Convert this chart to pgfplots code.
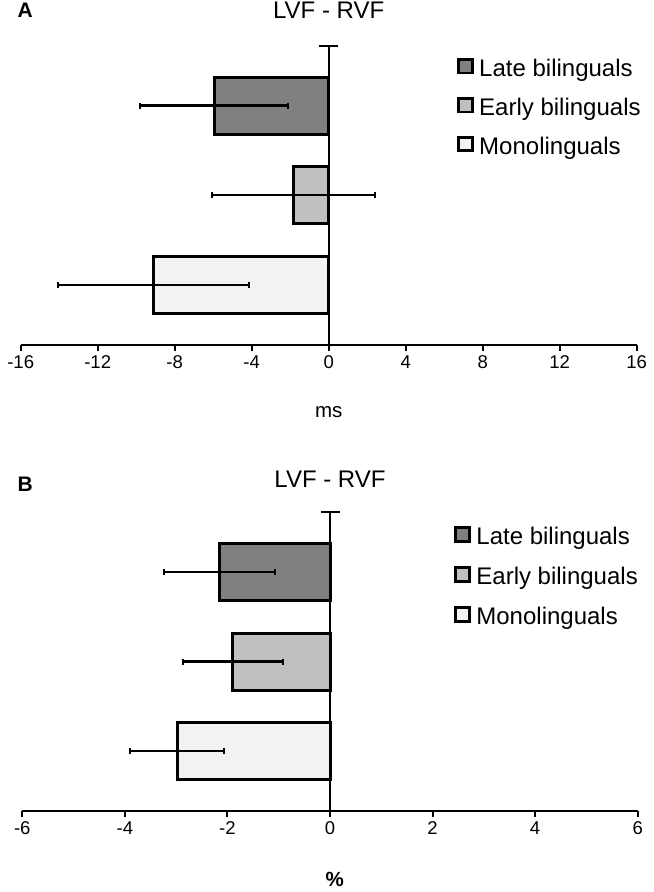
\documentclass[border=0pt]{standalone}
\usepackage{fontspec}
\setmainfont{Liberation Sans}
\usepackage{pgfplots}
\pgfplotsset{compat=1.18}
\definecolor{late}{HTML}{808080}
\definecolor{early}{HTML}{C0C0C0}
\definecolor{mono}{HTML}{F2F2F2}
\pgfplotsset{
  panel/.style={
    scale only axis,
    axis x line=bottom, axis y line=center,
    axis line style={-, line width=2bp, black},
    ymin=-0.6667, ymax=2.6667,
    ytick=\empty,
    tick align=outside, major tick length=6bp,
    xtick style={line width=2bp, black},
    xticklabel style={font=\fontsize{18.5bp}{22bp}\selectfont, inner sep=0pt, yshift=-4.5bp},
    legend cell align=left,
    legend style={draw=none, fill=none, inner sep=0pt, outer sep=0pt, anchor=north west,
      font=\fontsize{24bp}{28bp}\selectfont,
      nodes={inner sep=0pt, text height=18bp, text depth=5bp}},
    clip=false,
  },
  mybar/.style={xbar, bar width=57bp, bar shift=0pt, draw=black, line width=3bp, fill=#1,
    legend image code/.code={\draw[##1, line width=2.8bp] (0bp,-3.2bp) rectangle (14bp,10.5bp); \path (19.5bp,0bp);},
    error bars/.cd, x dir=both, x explicit,
    error bar style={line width=2.2bp, black},
    error mark=|,
    error mark options={line width=2bp, mark size=3bp, black}},
}
\begin{document}
\begin{tikzpicture}
\useasboundingbox (0,0) rectangle (654bp,-892bp);
% Panel A
\node[anchor=base west, inner sep=0pt, font=\bfseries\fontsize{21bp}{25bp}\selectfont] at (17.5bp,-17bp) {A};
\begin{axis}[panel,
  at={(20.7bp,-344.7bp)}, anchor=south west,
  width=616bp, height=299bp,
  xmin=-16, xmax=16,
  xtick={-16,-12,-8,-4,0,4,8,12,16},
  xticklabels={-16,-12,-8,-4,0,4,8,12,16},
  title={LVF - RVF},
  title style={at={(axis description cs:0.5,1)}, anchor=base, yshift=21bp, inner sep=0pt, font=\fontsize{24bp}{28bp}\selectfont},
  xlabel={ms},
  xlabel style={at={(axis description cs:0.5,0)}, anchor=base, yshift=-73bp, inner sep=0pt, font=\fontsize{20.5bp}{24bp}\selectfont},
  legend style={at={(rel axis cs:0.708,0.959)}, row sep=15.5bp},
]
\addplot[mybar=late] coordinates {(-5.95,2) +- (3.86,0)};
\addplot[mybar=early] coordinates {(-1.83,1) +- (4.23,0)};
\addplot[mybar=mono] coordinates {(-9.1,0) +- (4.95,0)};
\legend{Late bilinguals, Early bilinguals, Monolinguals}
\draw[line width=2bp] (axis cs:0,2.6667) ++(-9.5bp,0bp) -- ++(19bp,0bp);
\end{axis}
% Panel B
\node[anchor=base west, inner sep=0pt, font=\bfseries\fontsize{21bp}{25bp}\selectfont] at (17.5bp,-491.7bp) {B};
\begin{axis}[panel,
  at={(22.3bp,-810.7bp)}, anchor=south west,
  width=615.4bp, height=298.4bp,
  xmin=-6, xmax=6,
  xtick={-6,-4,-2,0,2,4,6},
  xticklabels={-6,-4,-2,0,2,4,6},
  title={LVF - RVF},
  title style={at={(axis description cs:0.5,1)}, anchor=base, yshift=19bp, inner sep=0pt, font=\fontsize{24bp}{28bp}\selectfont},
  xlabel={\%},
  xlabel style={at={(axis description cs:0.5,0)}, anchor=base, yshift=-75.3bp, xshift=4.7bp, inner sep=0pt, font=\bfseries\fontsize{20.5bp}{24bp}\selectfont},
  legend style={at={(rel axis cs:0.7015,0.953)}, row sep=16.5bp},
]
\addplot[mybar=late] coordinates {(-2.16,2) +- (1.08,0)};
\addplot[mybar=early] coordinates {(-1.895,1) +- (0.975,0)};
\addplot[mybar=mono] coordinates {(-2.98,0) +- (0.92,0)};
\legend{Late bilinguals, Early bilinguals, Monolinguals}
\draw[line width=2bp] (axis cs:0,2.6667) ++(-9.5bp,0bp) -- ++(19bp,0bp);
\end{axis}
\end{tikzpicture}
\end{document}
